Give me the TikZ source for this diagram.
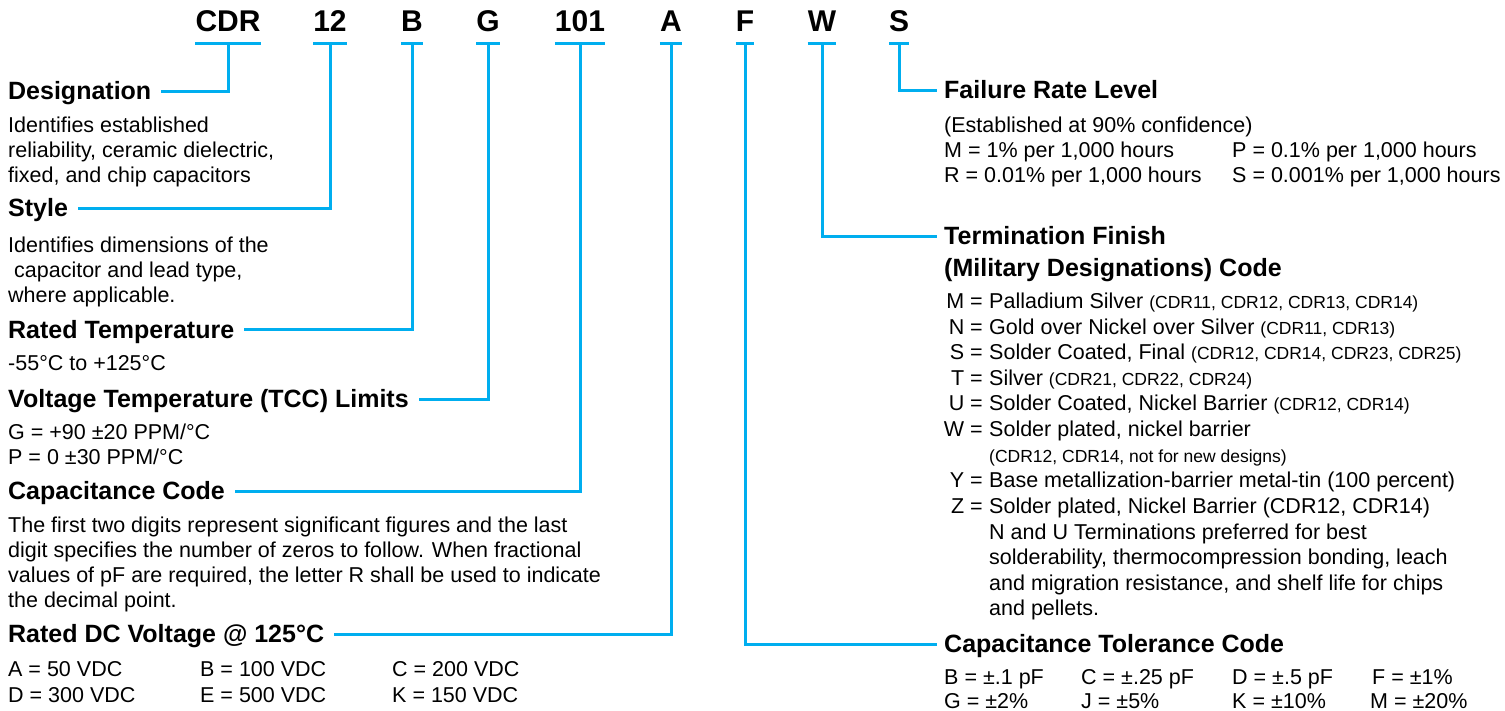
\documentclass[tikz,border=0pt]{standalone}
\usepackage{fontspec}
\setmainfont{Liberation Sans}
\definecolor{leadblue}{HTML}{00AEEF}
\tikzset{
  codebox/.style={font=\fontsize{30}{30}\selectfont\bfseries, inner sep=0pt, text height=22pt, text depth=11pt, anchor=base},
  headline/.style={font=\fontsize{25}{25}\selectfont\bfseries, inner sep=0pt, text height=17pt, text depth=1pt, anchor=base west},
  bodytext/.style={font=\fontsize{21.5}{25}\selectfont, inner sep=0pt, anchor=base west, yshift=-1.5pt},
  keytext/.style={bodytext, anchor=base east},
  leadline/.style={draw=leadblue, line width=3pt},
}
\newcommand{\smallnote}[1]{{\fontsize{17.5}{20}\selectfont #1}}
\begin{document}
\begin{tikzpicture}[x=1pt, y=-1pt]
\useasboundingbox (0,0) rectangle (1505,711);
% part number
\node[codebox] (pcdr) at (228,32) {CDR};
\node[codebox] (p12)  at (330,32) {12};
\node[codebox] (pB)   at (412,32) {B};
\node[codebox] (pG)   at (488,32) {G};
\node[codebox] (p101) at (580,32) {101};
\node[codebox] (pA)   at (671,32) {A};
\node[codebox] (pF)   at (745,32) {F};
\node[codebox] (pW)   at (822,32) {W};
\node[codebox] (pS)   at (899,32) {S};
\foreach \c in {pcdr,p12,pB,pG,p101,pA,pF,pW,pS}
  \draw[leadline] (\c.south west) -- (\c.south east);

% left column
\node[headline] (desig) at (8,100) {Designation};
\foreach \ln [count=\i] in {Identifies established, {reliability, ceramic dielectric,}, {fixed, and chip capacitors}}
  \node[bodytext] (desig-\i) at (8,{106+25*\i}) {\ln};
\node[headline] (style) at (8,217) {Style};
\foreach \ln [count=\i] in {Identifies dimensions of the, {\ capacitor and lead type,}, where applicable.}
  \node[bodytext] (style-\i) at (8,{226+25*\i}) {\ln};
\node[headline] (temp) at (8,338) {Rated Temperature};
\node[bodytext] (temp-1) at (8,369) {-55°C to +125°C};
\node[headline] (tcc) at (8,407) {Voltage Temperature (TCC) Limits};
\node[bodytext] (tcc-1) at (8,438) {G = +90 ±20 PPM/°C};
\node[bodytext] (tcc-2) at (8,463) {P = 0 ±30 PPM/°C};
\node[headline] (cap) at (8,499) {Capacitance Code};
\foreach \ln [count=\i] in {The first two digits represent significant figures and the last,
    digit specifies the number of zeros to follow. When fractional,
    {values of pF are required, the letter R shall be used to indicate},
    the decimal point.}
  \node[bodytext] (cap-\i) at (8,{506+25*\i}) {\ln};
\node[headline] (volt) at (8,642) {Rated DC Voltage @ 125°C};
\node[bodytext] (volt-a) at (8,675)   {A = 50 VDC};
\node[bodytext] (volt-b) at (200,675) {B = 100 VDC};
\node[bodytext] (volt-c) at (392,675) {C = 200 VDC};
\node[bodytext] (volt-d) at (8,701)   {D = 300 VDC};
\node[bodytext] (volt-e) at (200,701) {E = 500 VDC};
\node[bodytext] (volt-k) at (392,701) {K = 150 VDC};

% right column
\node[headline] (rate) at (944,99) {Failure Rate Level};
\node[bodytext] (rate-0) at (944,131)  {(Established at 90\% confidence)};
\node[bodytext] (rate-m) at (944,156)  {M = 1\% per 1,000 hours};
\node[bodytext] (rate-p) at (1232,156) {P = 0.1\% per 1,000 hours};
\node[bodytext] (rate-r) at (944,181)  {R = 0.01\% per 1,000 hours};
\node[bodytext] (rate-s) at (1232,181) {S = 0.001\% per 1,000 hours};
\node[headline] (term) at (944,245) {Termination Finish};
\node[headline] (term-2) at (944,277) {(Military Designations) Code};
\node[keytext] (key-m) at (983,307) {M =};
\node[bodytext] (fin-m) at (989,307) {Palladium Silver \smallnote{(CDR11, CDR12, CDR13, CDR14)}};
\node[keytext] (key-n) at (983,333) {N =};
\node[bodytext] (fin-n) at (989,333) {Gold over Nickel over Silver \smallnote{(CDR11, CDR13)}};
\node[keytext] (key-s) at (983,358) {S =};
\node[bodytext] (fin-s) at (989,358) {Solder Coated, Final \smallnote{(CDR12, CDR14, CDR23, CDR25)}};
\node[keytext] (key-t) at (983,384) {T =};
\node[bodytext] (fin-t) at (989,384) {Silver \smallnote{(CDR21, CDR22, CDR24)}};
\node[keytext] (key-u) at (983,409) {U =};
\node[bodytext] (fin-u) at (989,409) {Solder Coated, Nickel Barrier \smallnote{(CDR12, CDR14)}};
\node[keytext] (key-w) at (983,435) {W =};
\node[bodytext] (fin-w) at (989,435) {Solder plated, nickel barrier};
\node[bodytext] (fin-w2) at (989,461) {\smallnote{(CDR12, CDR14, not for new designs)}};
\node[keytext] (key-y) at (983,486) {Y =};
\node[bodytext] (fin-y) at (989,486) {Base metallization-barrier metal-tin (100 percent)};
\node[keytext] (key-z) at (983,512) {Z =};
\node[bodytext] (fin-z) at (989,512) {Solder plated, Nickel Barrier (CDR12, CDR14)};
\foreach \ln [count=\i] in {N and U Terminations preferred for best,
    {solderability, thermocompression bonding, leach},
    {and migration resistance, and shelf life for chips},
    and pellets.}
  \node[bodytext] (pref-\i) at (989,{512+25.6*\i}) {\ln};
\node[headline] (tol) at (944,652) {Capacitance Tolerance Code};
\node[bodytext] (tol-b) at (944,683)  {B = ±.1 pF};
\node[bodytext] (tol-c) at (1081,683) {C = ±.25 pF};
\node[bodytext] (tol-d) at (1232,683) {D = ±.5 pF};
\node[bodytext] (tol-f) at (1372,683) {F = ±1\%};
\node[bodytext] (tol-g) at (944,707)  {G = ±2\%};
\node[bodytext] (tol-j) at (1081,707) {J = ±5\%};
\node[bodytext] (tol-k) at (1232,707) {K = ±10\%};
\node[bodytext] (tol-m) at (1370,707) {M = ±20\%};

% leads
\draw[leadline] (pcdr.south) |- ([xshift=10pt]desig.east);
\draw[leadline] (p12.south)  |- ([xshift=10pt]style.east);
\draw[leadline] (pB.south)   |- ([xshift=10pt]temp.east);
\draw[leadline] (pG.south)   |- ([xshift=10pt]tcc.east);
\draw[leadline] (p101.south) |- ([xshift=10pt]cap.east);
\draw[leadline] (pA.south)   |- ([xshift=10pt]volt.east);
\draw[leadline] (pF.south)   |- ([xshift=-7pt]tol.west);
\draw[leadline] (pW.south)   |- ([xshift=-7pt]term.west);
\draw[leadline] (pS.south)   |- ([xshift=-7pt]rate.west);
\end{tikzpicture}
\end{document}
